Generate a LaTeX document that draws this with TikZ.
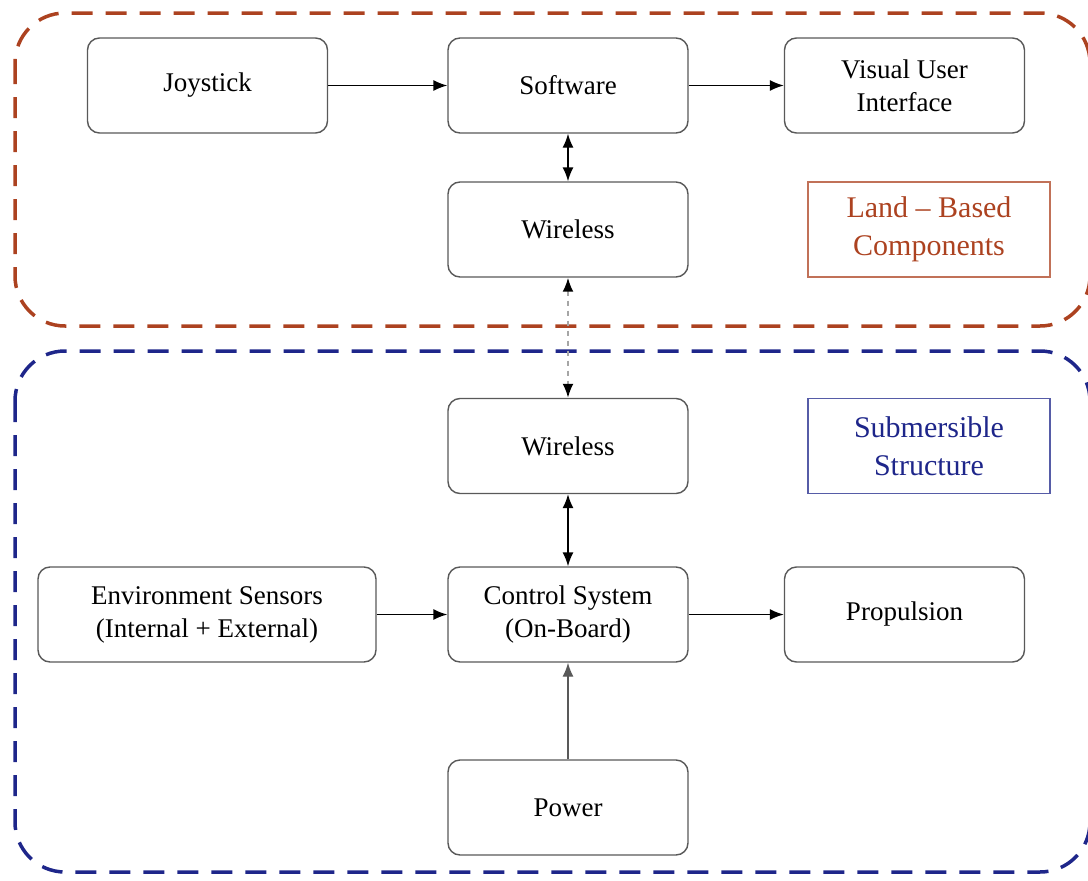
\documentclass[tikz,border=0pt]{standalone}
\usepackage{fontspec}
\setmainfont{Liberation Serif}
\usepackage{xcolor}
\usetikzlibrary{arrows.meta}
\usetikzlibrary{positioning}

\definecolor{landred}{RGB}{172,66,32}
\definecolor{subblue}{RGB}{30,38,138}

\begin{document}
\begin{tikzpicture}[x=1pt, y=-1pt,
        block/.style={draw=black!65, line width=1.4pt, rounded corners=12pt, fill=white,
            minimum width=240pt, minimum height=95pt, align=center,
            font=\fontsize{27}{33}\selectfont},
        tag/.style={draw, line width=1.2pt, minimum width=242pt, minimum height=95pt,
            align=center, font=\fontsize{30}{38}\selectfont},
        link/.style={-{Latex[length=14pt,width=11pt]}, line width=1.4pt},
        zone/.style={line width=3.5pt, dash pattern=on 21pt off 13pt, rounded corners=50pt}]
        \useasboundingbox (0, 0) rectangle (1088, 881);

        % the two dashed zones
        \draw[zone, landred] (15, 13) rectangle (1090, 326);
        \draw[zone, subblue] (15, 351) rectangle (1090, 872);

        % land side
        \node[block] (joystick) at (207.5, 85.5) {Joystick};
        \node[block] (software) at (568, 85.5) {Software};
        \node[block] (vui) at (904.5, 85.5) {Visual User\\Interface};
        \node[block] (wirelessA) at (568, 229.5) {Wireless};
        \node[tag, draw=landred!75, text=landred] (landtag) at (929, 229.5) {Land -- Based\\Components};

        % submersible side
        \node[block] (wirelessB) at (568, 446) {Wireless};
        \node[tag, draw=subblue!75, text=subblue] (subtag) at (929, 446) {Submersible\\Structure};
        \node[block, minimum width=338pt] (sensors) at (207, 614.5) {Environment Sensors\\(Internal + External)};
        \node[block] (control) at (568, 614.5) {Control System\\(On-Board)};
        \node[block] (propulsion) at (904.5, 614.5) {Propulsion};
        \node[block] (power) at (568, 807.5) {Power};

        \draw[link] (joystick) -- (software);
        \draw[link] (software) -- (vui);
        \draw[link, {Latex[length=14pt,width=11pt]}-{Latex[length=14pt,width=11pt]}] (software) -- (wirelessA);
        \draw[line width=2pt, black!35, dash pattern=on 5pt off 5pt,
            {Latex[length=14pt,width=11pt,black]}-{Latex[length=14pt,width=11pt,black]}] (wirelessA) -- (wirelessB);
        \draw[link, {Latex[length=14pt,width=11pt]}-{Latex[length=14pt,width=11pt]}] (wirelessB) -- (control);
        \draw[link] (sensors) -- (control);
        \draw[link] (control) -- (propulsion);
        \draw[link, black!65] (power) -- (control);
\end{tikzpicture}
\end{document}
